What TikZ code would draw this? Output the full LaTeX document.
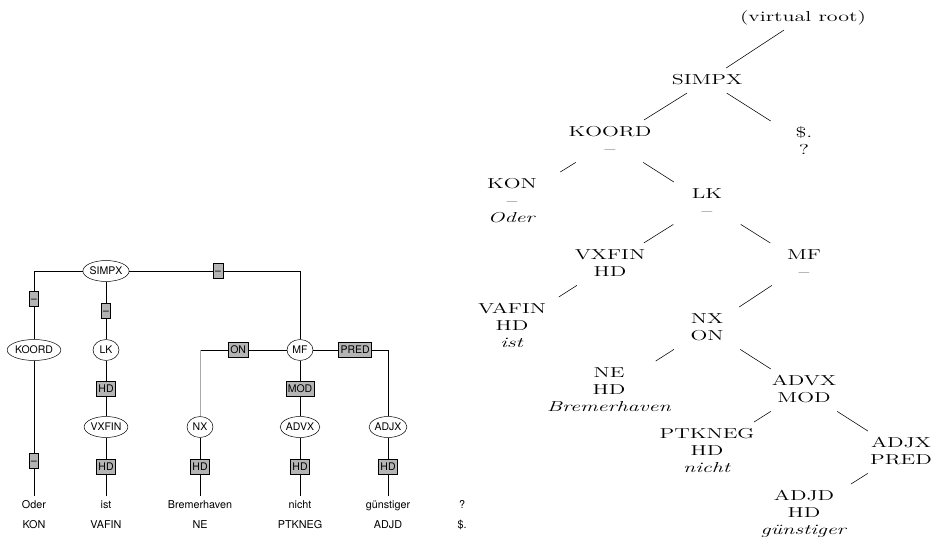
\documentclass[tikz,border=0pt]{standalone}
\usepackage{fontspec}
\newfontfamily\helvfont{TeX Gyre Heros}
\usetikzlibrary{shapes.geometric}
\definecolor{fnGray}{RGB}{180,180,180}
\definecolor{edgeGray}{RGB}{170,170,170}
\tikzset{
  catnode/.style={ellipse, draw, line width=0.5pt, fill=white, inner xsep=0pt, inner ysep=3.6pt,
    minimum width=26pt, text height=7.6pt, text depth=0pt, font=\helvfont\fontsize{10.5}{12}\selectfont},
  fnbox/.style={draw, line width=0.5pt, fill=fnGray, inner xsep=1.8pt, inner ysep=0pt,
    minimum height=15pt, text height=7.6pt, text depth=0pt, font=\helvfont\fontsize{10.5}{12}\selectfont},
  wordnode/.style={anchor=base, inner sep=2.5pt, text height=9pt, text depth=2pt,
    font=\helvfont\fontsize{10.8}{12}\selectfont},
  treeln/.style={line width=0.6pt},
  rtnode/.style={anchor=north, align=center, xscale=1.53, inner sep=3.7pt,
    font=\fontsize{14.4}{17.3}\selectfont},
  rtedge/.style={line width=0.55pt},
}
\newcommand{\treeedge}[2]{%
  \draw[rtedge] (intersection of #1--#2 and #1.south west--#1.south east)
    -- (intersection of #1--#2 and #2.north west--#2.north east);
}

\begin{document}
\begin{tikzpicture}[x=1pt, y=-1pt]
    \useasboundingbox (0,0) rectangle (934,537);
    % left: box-and-line tree
    \node[catnode] (lsimpx) at (106,271) {SIMPX};
    \node[catnode] (lkoord) at (34,350) {KOORD};
    \node[catnode] (llk) at (106,350) {LK};
    \node[catnode] (lmf) at (300,350) {MF};
    \node[catnode] (lvxfin) at (106,427) {VXFIN};
    \node[catnode] (lnx) at (200,427) {NX};
    \node[catnode] (ladvx) at (300,427) {ADVX};
    \node[catnode] (ladjx) at (388,427) {ADJX};
    % words and their tags
    \foreach \name/\x/\word/\tag in {oder/34/Oder/KON, ist/106/ist/VAFIN,
        brem/200/Bremerhaven/NE, nicht/300/nicht/PTKNEG,
        guen/388/günstiger/ADJD, qm/462/?/\$.}{
      \node[wordnode] (w\name) at (\x,508) {\word};
      \node[wordnode] (t\name) at (\x,528) {\tag};
    }
    % edges with function labels
    \draw[treeln] (lsimpx) -| node[fnbox, pos=0.7] (fkoord) {–} (lkoord);
    \draw[treeln] (lsimpx) -- node[fnbox] (flk) {–} (llk);
    \draw[treeln] (lsimpx) -| node[fnbox, pos=0.26] (fmf) {–} (lmf);
    \coordinate (oncorner) at (lnx |- lmf);
    \draw[treeln] (lmf) -- node[fnbox, pos=0.56] (fnx) {ON} (oncorner);
    \draw[treeln, edgeGray] (oncorner) -- (lnx);
    \draw[treeln] (lmf) -| node[fnbox, pos=0.28] (fadjx) {PRED} (ladjx);
    \draw[treeln] (lmf) -- node[fnbox] (fadvx) {MOD} (ladvx);
    \draw[treeln] (llk) -- node[fnbox] (fvxfin) {HD} (lvxfin);
    \draw[treeln] (lkoord) -- node[fnbox, pos=0.735] (foder) {–} (woder);
    \draw[treeln] (lvxfin) -- node[fnbox] (fist) {HD} (wist);
    \draw[treeln] (lnx) -- node[fnbox] (fbrem) {HD} (wbrem);
    \draw[treeln] (ladvx) -- node[fnbox] (fnicht) {HD} (wnicht);
    \draw[treeln] (ladjx) -- node[fnbox] (fguen) {HD} (wguen);

    % right: plain text tree
    \node[rtnode] (rroot) at (803,5) {\strut(virtual root)\strut};
    \node[rtnode] (rsimpx) at (707,68) {\strut SIMPX\strut};
    \node[rtnode] (rkoord) at (610,120) {\strut KOORD\\--\strut};
    \node[rtnode] (rdollar) at (804,121) {\strut\$.\\?\strut};
    \node[rtnode] (rkon) at (512,172) {\strut KON\\--\\\textit{Oder}\strut};
    \node[rtnode] (rlk) at (707,182) {\strut LK\\--\strut};
    \node[rtnode] (rvxfin) at (610,243) {\strut VXFIN\\HD\strut};
    \node[rtnode] (rmf) at (804,243) {\strut MF\\--\strut};
    \node[rtnode] (rvafin) at (512,297) {\strut VAFIN\\HD\\\textit{ist}\strut};
    \node[rtnode] (rnx) at (707,307) {\strut NX\\ON\strut};
    \node[rtnode] (rne) at (609,361) {\strut NE\\HD\\\textit{Bremerhaven}\strut};
    \node[rtnode] (radvx) at (804,369) {\strut ADVX\\MOD\strut};
    \node[rtnode] (rptkneg) at (707,422) {\strut PTKNEG\\HD\\\textit{nicht}\strut};
    \node[rtnode] (radjx) at (901,431) {\strut ADJX\\PRED\strut};
    \node[rtnode] (radjd) at (804,484) {\strut ADJD\\HD\\\textit{günstiger}\strut};
    % tree edges
    \treeedge{rroot}{rsimpx}
    \treeedge{rsimpx}{rkoord}
    \treeedge{rsimpx}{rdollar}
    \treeedge{rkoord}{rkon}
    \treeedge{rkoord}{rlk}
    \treeedge{rlk}{rvxfin}
    \treeedge{rlk}{rmf}
    \treeedge{rvxfin}{rvafin}
    \treeedge{rmf}{rnx}
    \treeedge{rnx}{rne}
    \treeedge{rnx}{radvx}
    \treeedge{radvx}{rptkneg}
    \treeedge{radvx}{radjx}
    \treeedge{radjx}{radjd}
  \end{tikzpicture}
\end{document}
